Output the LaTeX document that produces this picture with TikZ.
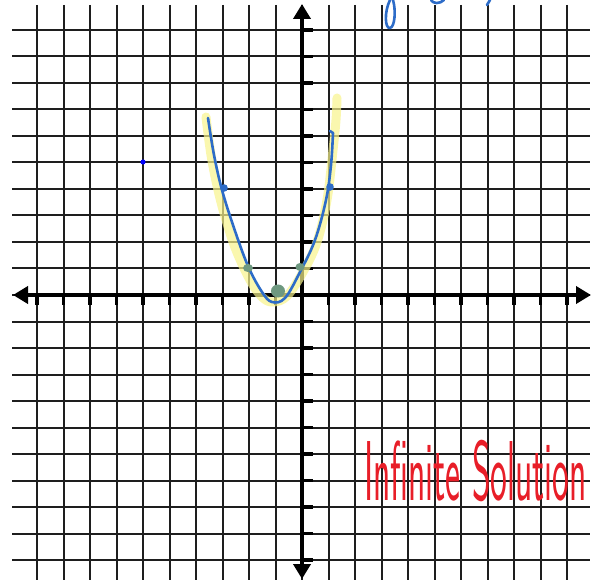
\documentclass[tikz,border=0pt]{standalone}
\usepackage{fontspec}
\usetikzlibrary{arrows.meta}
\definecolor{pen}{RGB}{45,108,200}
\definecolor{hilite}{RGB}{248,244,140}
\definecolor{blob}{RGB}{110,152,128}
\definecolor{redink}{RGB}{232,30,40}
\definecolor{gridink}{RGB}{30,30,30}
\tikzset{
  gridline/.style={draw=gridink, line width=2pt},
  axisline/.style={draw=black, line width=4.5pt, {Triangle[length=15pt,width=17pt]}-{Triangle[length=15pt,width=17pt]}},
  tickmark/.style={draw=black, line width=3.5pt},
  penstroke/.style={draw=pen, line width=2.6pt, line cap=round, line join=round},
  hilitestroke/.style={draw=hilite, line width=9pt, opacity=0.7, line cap=round, line join=round},
  blobdot/.style={fill=blob},
}
\begin{document}
\begin{tikzpicture}[x=1pt,y=-1pt]
\useasboundingbox (0,0) rectangle (600,580);
\fill[white] (0,0) rectangle (600,580);
% grid
\foreach \k in {0,...,20} {
  \pgfmathsetmacro\xx{37+26.5*\k}
  \draw[gridline] (\xx,5) -- (\xx,580);
  \pgfmathsetmacro\yy{30+26.5*\k}
  \draw[gridline] (12,\yy) -- (590,\yy);
}
% ticks
\foreach \k in {0,...,20} {
  \pgfmathsetmacro\xx{37+26.5*\k}
  \draw[tickmark] (\xx,295) -- (\xx,305);
  \pgfmathsetmacro\yy{30+26.5*\k}
  \draw[tickmark] (302,\yy) -- (313,\yy);
}
% axes
\draw[axisline] (13,295) -- (591,295);
\draw[axisline] (302,4) -- (302,579);
% highlighter
\draw[hilitestroke] plot[smooth, tension=0.6] coordinates {(206,117) (211,155) (218,190) (226,220) (236,250) (250,280) (262,297) (273,302) (287,296) (303,272) (317,242) (327,200) (333,150) (336,120) (337,98)};
% pen curve
\draw[penstroke] plot[smooth, tension=0.6] coordinates {(208,118) (214,155) (222,190) (234,228) (248,266) (262,292) (272,302) (285,298) (300,272) (315,240) (326,200) (331,165) (333,133)} -- (330,131);
% dots on curve
\fill[pen] (224,188) circle[radius=3.8pt];
\fill[pen] (330,187) circle[radius=3.8pt];
\fill[blobdot] (248,268) ellipse[x radius=5pt, y radius=4pt];
\fill[blobdot] (278,291) ellipse[x radius=7pt, y radius=6.5pt];
\fill[blobdot] (300,267) ellipse[x radius=4.5pt, y radius=4pt];
% lone blue point
\fill[blue] (143,162) circle[radius=2.6pt];
% handwriting fragments at top
\draw[penstroke] (390,0) .. controls (384,12) and (385,29) .. (390,28) .. controls (395,27) and (396,10) .. (393,0);
\draw[penstroke] (431,0) .. controls (433,4) and (440,4) .. (444,0);
\draw[penstroke] (490,0) -- (487,5);
% red text
\node[anchor=base west, inner sep=0pt, text=redink, xscale=0.42, font=\sffamily\fontsize{85}{85}\selectfont] (sol) at (364,500) {Infinite Solution};
\end{tikzpicture}
\end{document}
